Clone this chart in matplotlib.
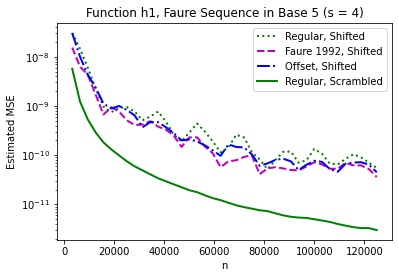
import numpy as np
import matplotlib
matplotlib.use('Agg')
import matplotlib.pyplot as plt

# n = 3125, 6250, ..., 125000
n = np.arange(1, 41) * 3125

regular_shifted = [3.06e-8, 1.45e-8, 5.98e-9, 2.25e-9, 9.7e-10, 7.5e-10, 9.1e-10, 9.5e-10,
                   7.7e-10, 5.1e-10, 6.1e-10, 7.7e-10, 4.8e-10, 2.6e-10, 1.9e-10, 2.9e-10,
                   4.4e-10, 3.0e-10, 1.9e-10, 1.14e-10, 1.44e-10, 2.6e-10, 2.3e-10, 1.16e-10,
                   8.2e-11, 5.2e-11, 7.9e-11, 1.17e-10, 1.19e-10, 7.0e-11, 7.9e-11, 1.34e-10,
                   1.06e-10, 6.7e-11, 6.5e-11, 8.4e-11, 1.04e-10, 9.0e-11, 7.0e-11, 5.5e-11]

faure_shifted = [1.54e-8, 6.3e-9, 4.3e-9, 1.70e-9, 6.7e-10, 9.4e-10, 7.7e-10, 5.1e-10,
                 4.1e-10, 4.2e-10, 4.9e-10, 3.8e-10, 3.3e-10, 2.5e-10, 1.47e-10, 2.3e-10,
                 2.3e-10, 1.5e-10, 1.09e-10, 5.7e-11, 7.5e-11, 7.9e-11, 9.2e-11, 1.0e-10,
                 4.1e-11, 5.4e-11, 5.7e-11, 5.4e-11, 5.0e-11, 4.9e-11, 5.9e-11, 7.2e-11,
                 6.5e-11, 5.3e-11, 5.3e-11, 7.0e-11, 6.2e-11, 6.2e-11, 5.2e-11, 3.6e-11]

offset_shifted = [3.02e-8, 1.0e-8, 4.3e-9, 2.36e-9, 1.12e-9, 8.9e-10, 1.0e-9, 8.3e-10,
                  6.4e-10, 3.7e-10, 4.7e-10, 4.7e-10, 3.7e-10, 2.8e-10, 2.0e-10, 2.1e-10,
                  1.9e-10, 1.58e-10, 1.25e-10, 9.7e-11, 1.66e-10, 1.47e-10, 1.44e-10, 1.04e-10,
                  6.1e-11, 6.8e-11, 8.0e-11, 8.5e-11, 7.5e-11, 5.0e-11, 6.4e-11, 7.7e-11,
                  7.3e-11, 5.2e-11, 4.6e-11, 6.7e-11, 7.1e-11, 7.2e-11, 6.4e-11, 4.5e-11]

regular_scrambled = [5.71e-9, 1.23e-9, 5.31e-10, 2.90e-10, 1.82e-10, 1.31e-10, 9.9e-11, 7.49e-11,
                     5.93e-11, 4.92e-11, 4.08e-11, 3.39e-11, 2.95e-11, 2.56e-11, 2.23e-11, 1.94e-11,
                     1.77e-11, 1.53e-11, 1.34e-11, 1.22e-11, 1.08e-11, 9.6e-12, 8.8e-12, 8.2e-12,
                     7.6e-12, 7.3e-12, 6.6e-12, 6.0e-12, 5.6e-12, 5.4e-12, 5.3e-12, 5.0e-12,
                     4.7e-12, 4.4e-12, 4.0e-12, 3.7e-12, 3.45e-12, 3.3e-12, 3.3e-12, 3.0e-12]

fig = plt.figure(figsize=(399/72, 278/72), dpi=72)
ax = fig.add_axes([57/399, 38/278, 335/399, 217/278])

ax.plot(n, regular_shifted, 'g:', lw=2, label='Regular, Shifted')
ax.plot(n, faure_shifted, 'm--', lw=2, label='Faure 1992, Shifted')
ax.plot(n, offset_shifted, 'b-.', lw=2, label='Offset, Shifted')
ax.plot(n, regular_scrambled, 'g-', lw=2, label='Regular, Scrambled')

ax.set_yscale('log')
ax.set_title('Function h1, Faure Sequence in Base 5 (s = 4)')
ax.set_xlabel('n')
ax.set_ylabel('Estimated MSE')
ax.legend(loc='upper right')

fig.savefig('out.png', dpi=72)
